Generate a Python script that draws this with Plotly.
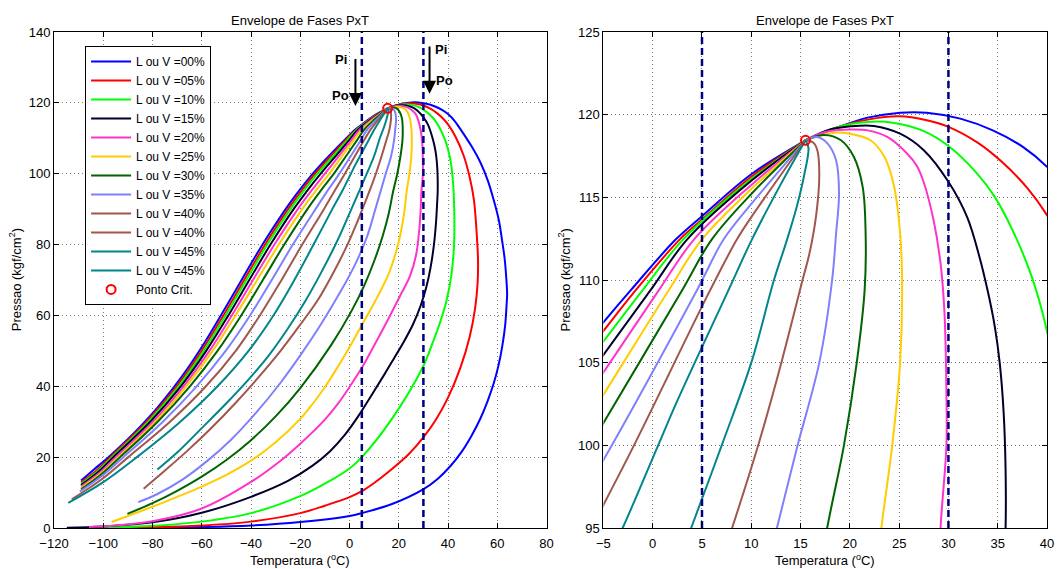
import plotly.graph_objects as go

# ---------------- data ----------------
# Left branches (from low-pressure start up to the critical point)
T_L00 = [-109, -104, -98, -91, -85, -78, -71.7, -65, -58.5, -52.3, -46, -40, -34, -28, -22, -16, -10, -5, -2.2,
         2.35, 5, 10, 15.5]
P_L00 = [13.4, 16.4, 19.9, 24.4, 28.6, 34.0, 39.4, 45.8, 52.7, 59.9, 67.4, 74.6, 81.5, 87.9, 93.8, 99.1, 103.8,
         107.44, 109.4, 112.46, 113.86, 116.4, 118.45]
T_L05 = [-109, -103.1, -97.15, -82.4, -70.2, -60.05, -51.2, -42.8, -34.3, -24.95, -19.7, -14.0, -5, -1.7, 2.75, 5,
         10, 15.5]
P_L05 = [12.9, 16.0, 20, 30, 40, 50, 60, 70, 80, 90, 95, 100, 106.92, 109.4, 112.46, 113.66, 116.25, 118.45]
T_L10 = [-109, -102.7, -96.45, -81.7, -69.4, -59.2, -50.3, -41.9, -33.4, -24.0, -18.75, -13.05, -5, -1.0, 3.1, 10,
         15.5]
P_L10 = [12.5, 15.8, 20, 30, 40, 50, 60, 70, 80, 90, 95, 100, 106.28, 109.4, 112.46, 116.1, 118.45]
T_L15 = [-109, -102.4, -95.85, -80.9, -68.5, -58.2, -49.2, -40.7, -32.1, -22.7, -17.4, -11.7, -5, -0.2, 3.5, 10,
         15.5]
P_L15 = [12.1, 15.6, 20, 30, 40, 50, 60, 70, 80, 90, 95, 100, 105.47, 109.4, 112.46, 116.0, 118.45]
T_L20 = [-109, -101.9, -94.85, -79.8, -67.4, -56.9, -47.8, -39.2, -30.5, -21.0, -15.7, -10.0, -5, 0.64, 4.2, 10,
         15.5]
P_L20 = [11.7, 15.35, 20, 30, 40, 50, 60, 70, 80, 90, 95, 100, 104.41, 109.4, 112.46, 115.75, 118.45]
T_L25 = [-109, -101.4, -93.85, -78.8, -66.3, -55.6, -46.3, -37.5, -28.7, -19.2, -13.9, -8.2, -5, 1.64, 5.0, 10,
         15.5]
P_L25 = [11.3, 15.15, 20, 30, 40, 50, 60, 70, 80, 90, 95, 100, 103.06, 109.4, 112.46, 115.5, 118.45]
T_L30 = [-109, -101.1, -93.15, -77.9, -64.8, -53.6, -44.0, -35.2, -26.5, -17.1, -11.9, -6.35, -5, 3.0, 6.0, 10,
         15.5]
P_L30 = [10.9, 14.95, 20, 30, 40, 50, 60, 70, 80, 90, 95, 100, 101.35, 109.4, 112.46, 115.2, 118.45]
T_L35 = [-109.5, -100.7, -91.85, -75.8, -62.1, -50.3, -40.4, -31.6, -23.0, -13.8, -9.1, -5, 4.5, 7.2, 10, 15.5]
P_L35 = [10.3, 14.6, 20, 30, 40, 50, 60, 70, 80, 90, 95, 99.11, 109.4, 112.46, 114.6, 118.45]
T_L40 = [-112.8, -101.3, -89.85, -72.9, -58.3, -46.2, -36.4, -27.6, -19.2, -10.4, -6.2, -1.9, 5.84, 8.55, 10, 15.5]
P_L40 = [8.1, 13.4, 20, 30, 40, 50, 60, 70, 80, 90, 95, 100, 109.4, 112.46, 113.8, 118.45]
T_L45 = [-114.2, -100.3, -86.35, -68.7, -53.6, -41.0, -30.9, -22.4, -14.6, -7.0, -3.05, 0.55, 2.5, 7.7, 10.07, 13,
         15.5]
P_L45 = [7.1, 12.8, 20, 30, 40, 50, 60, 70, 80, 90, 95, 100, 102.7, 109.4, 112.46, 115.8, 118.45]

# Right branches (from the critical point down to the low-pressure end)
T_R00 = [15.5, 18.4, 21.8, 25.1, 27.8, 31.2, 34.5, 37.55, 40, 42.8, 45.1, 49.5, 53.2, 56.2, 58.5, 60.6, 61.9, 63.0,
         63.6, 64.0, 63.8, 63.2, 62.0, 60.5, 58.5, 56.0, 53.0, 49.5, 45.5, 41.0, 36.0, 29.9, 17, 5, 0, -20, -40,
         -60, -85]
P_R00 = [118.45, 119.15, 119.82, 120.12, 120.12, 119.76, 119.05, 118.05, 116.84, 114.8, 112.5, 107.8, 103.1, 98,
         92.7, 87, 81.4, 76, 71.1, 66, 63.2, 57.2, 51.2, 45.9, 40.7, 35.7, 30.7, 26, 21.5, 17.5, 14, 10.9, 6.7, 4.2,
         3.4, 1.7, 0.7, 0.25, 0.03]
T_R05 = [15.5, 18.5, 21.8, 25.0, 27.8, 30, 33.0, 35.5, 38.05, 40, 43, 46.4, 48.8, 50.5, 51.8, 52.2, 52.0, 51.0, 48.8,
         45, 40, 35, 29.9, 24, 17, 10, 5, 0, -10, -20, -40, -60, -80, -100]
P_R05 = [118.45, 119.2, 119.7, 119.9, 119.66, 119.26, 118.29, 117.1, 115.53, 113.92, 110.5, 105, 99, 92.7, 81.4,
         75, 69, 62, 54, 45.2, 36.8, 30.5, 25.5, 20.8, 16.5, 12.7, 10.4, 8.7, 6.3, 4.2, 1.8, 0.7, 0.2, 0.03]
T_R10 = [15.5, 18.5, 21.8, 24.5, 27.5, 30, 32.85, 34.7, 36.5, 38.45, 40, 41.3, 42.1, 42.4, 42.6, 42.3, 41.3, 39.5,
         37, 33.5, 29.9, 17, 5, 0, -10, -20, -40, -60, -80, -95, -105]
P_R10 = [118.45, 119.2, 119.56, 119.5, 119.0, 118.1, 116.48, 115.03, 113.02, 110.2, 106.9, 102.5, 97, 92.7, 85, 78,
         71.1, 64.5, 58.5, 51.8, 45.6, 30.6, 20, 16.8, 12.5, 9.0, 4.2, 1.8, 0.6, 0.15, 0.03]
T_R15 = [15.5, 18, 20.1, 22.45, 25.1, 27.5, 30, 31.9, 33.1, 34.0, 34.7, 35.2, 35.6, 35.8, 35.8, 35.6, 35.1, 34.2,
         32.9, 31.2, 28.9, 25.8, 22, 18, 14.3, 8.5, 3.5, -2, -8, -15, -25, -40, -60, -80, -100, -114.8]
P_R15 = [118.45, 119.1, 119.3, 119.32, 118.85, 117.85, 115.94, 113.8, 111.5, 109.3, 107.2, 105, 102, 98.5, 95, 92,
         86, 79.5, 73.5, 68, 62.8, 57.5, 52.5, 47.8, 43.5, 37.0, 31.5, 26.2, 21.6, 17.6, 13.3, 8.8, 4.3, 1.6, 0.45,
         0.1]
T_R20 = [15.5, 17.5, 20.1, 21.8, 23.8, 25.8, 26.8, 27.5, 28.5, 29.2, 29.6, 29.8, 29.8, 29.2, 28.9, 28.3, 27, 24.5,
         20.5, 15, 10, 5, 0, -5, -10, -20, -28, -40, -60, -80, -95, -105.8]
P_R20 = [118.45, 118.95, 119.1, 119.05, 118.65, 117.65, 116.9, 115.9, 113.6, 111, 108, 103, 100, 95, 90, 84, 77,
         71, 65.5, 58, 51.5, 45.2, 39.8, 34.8, 30.6, 23.8, 19, 13, 5.5, 1.9, 0.7, 0.3]
T_R25 = [15.5, 18.4, 20, 22.1, 23.5, 24.5, 25.1, 25.3, 25.1, 24.3, 23.2, 22.2, 20.7, 18.5, 15.5, 10, 5, 0, -5,
         -10, -15, -20, -30, -40, -50, -60, -70, -80, -90, -96.6]
P_R25 = [118.45, 118.9, 118.85, 118.45, 117.45, 115.63, 112.8, 110, 105, 100, 95, 89, 83, 77, 71.1, 63.5, 57.3, 51.0,
         45.2, 39.8, 35, 30.8, 24.2, 19, 15, 11.7, 8.8, 6.0, 3.4, 1.7]
T_R30 = [15.5, 17.4, 19.1, 20.4, 21.3, 21.6, 21.5, 20.7, 19.4, 17.7, 16, 13.5, 10.1, 6, 1, -7.4, -20, -30, -40,
         -50, -60, -70, -80, -90.2]
P_R30 = [118.45, 118.77, 118.45, 117.45, 115.63, 112.8, 109.4, 105, 100, 95, 89, 82.5, 75.5, 68.5, 61.5, 51.7, 39.5,
         31.5, 24.8, 19.2, 14.5, 10.5, 7.0, 4.0]
T_R35 = [15.5, 16.7, 17.75, 18.6, 18.9, 18.6, 18.2, 16.9, 14.7, 12.6, 10.5, 7, 2, -4, -11.4, -19.5, -28, -38, -48,
         -58, -68, -78, -85.8]
P_R35 = [118.45, 118.65, 118.25, 117.24, 115.23, 112.8, 110, 105, 100, 95, 90, 82, 74, 66.3, 57.7, 49.2, 41, 32.5,
         25, 18.8, 13.6, 9.6, 7.3]
T_R40 = [15.5, 16.3, 16.7, 16.9, 16.6, 15.9, 15.2, 13.05, 10.7, 8.05, 3.5, -1.5, -7, -13, -20.1, -28, -37, -46, -56,
         -66, -76, -83.6]
P_R40 = [118.45, 118.3, 117.85, 116.44, 114.0, 111.6, 110, 105, 100, 95, 87, 79, 71.5, 64.2, 57.3, 50, 42.5, 35.5,
         28.3, 21.7, 15.6, 11.1]
T_R45 = [15.5, 15.8, 15.4, 14.6, 13.5, 12.3, 10, 7, 3.9, 0, -5, -11.2, -18, -25.5, -33, -41.4, -50, -60, -70, -78]
P_R45 = [118.45, 118.0, 116.44, 114.4, 112.2, 110, 105, 100, 95, 88.8, 81, 72.5, 64, 55.8, 48.5, 41.6, 35.2, 28.2,
         21.3, 16.5]

LABELS = ["L ou V =00%", "L ou V =05%", "L ou V =10%", "L ou V =15%", "L ou V =20%", "L ou V =25%",
          "L ou V =30%", "L ou V =35%", "L ou V =40%", "L ou V =45%"]
COLORS = ["#0000ff", "#ff0000", "#00ff00", "#00002e", "#ff33cc", "#ffcc00",
          "#006400", "#8080ff", "#a0574d", "#00868b"]

T_CRIT = [15.5]
P_CRIT = [118.45]
T_DASH = [5, 30]

# Pi / Po arrows (left chart)
ARROW_T = [2.4, 32.5]
ARROW_P_TOP = [132.8, 136.3]
ARROW_P_TIP = [119.1, 122.6]
PI_T = [-3.5, 37.1]
PI_P = [132.2, 135.1]
PO_T = [-3.6, 38.5]
PO_P = [122.0, 126.4]

LEFT = [(T_L00, P_L00), (T_L05, P_L05), (T_L10, P_L10), (T_L15, P_L15), (T_L20, P_L20),
        (T_L25, P_L25), (T_L30, P_L30), (T_L35, P_L35), (T_L40, P_L40), (T_L45, P_L45)]
RIGHT = [(T_R00, P_R00), (T_R05, P_R05), (T_R10, P_R10), (T_R15, P_R15), (T_R20, P_R20),
         (T_R25, P_R25), (T_R30, P_R30), (T_R35, P_R35), (T_R40, P_R40), (T_R45, P_R45)]

FONT = "Liberation Sans, Arial, Helvetica, sans-serif"

fig = go.Figure()

for sub, (xa, ya) in enumerate([("x", "y"), ("x2", "y2")]):
    for i in range(10):
        for side, (tt, pp) in enumerate([LEFT[i], RIGHT[i]]):
            show = (sub == 0) and (side == 0 or i >= 8)
            fig.add_trace(go.Scatter(
                x=tt, y=pp, mode="lines", name=LABELS[i],
                line=dict(color=COLORS[i], width=2, shape="spline", smoothing=1.0),
                showlegend=show, legendgroup=f"g{i}_{side}" if i >= 8 else f"g{i}",
                xaxis=xa, yaxis=ya, hoverinfo="skip"))
    for td in T_DASH:
        fig.add_trace(go.Scatter(
            x=[td, td], y=[0 if sub == 0 else 95, 140 if sub == 0 else 125], mode="lines",
            line=dict(color="#000080", width=2.5, dash="7px,4px"),
            showlegend=False, xaxis=xa, yaxis=ya, hoverinfo="skip"))
    fig.add_trace(go.Scatter(
        x=T_CRIT, y=P_CRIT, mode="markers", name="Ponto Crit.",
        marker=dict(symbol="circle-open", size=9, color="#ff0000", line=dict(width=2, color="#ff0000")),
        showlegend=(sub == 0), xaxis=xa, yaxis=ya, hoverinfo="skip"))

axis_common = dict(showline=True, linecolor="black", linewidth=1, mirror="ticks", ticks="inside",
                   ticklen=5, tickcolor="black", showgrid=True, gridcolor="#7a7a7a", gridwidth=1,
                   griddash="1px,3px", zeroline=False, tickfont=dict(family=FONT, size=13, color="black"))

fig.update_layout(
    width=1061, height=569,
    margin=dict(l=54, r=7, t=32, b=41),
    paper_bgcolor="white", plot_bgcolor="white",
    font=dict(family=FONT, size=13, color="black"),
    xaxis=dict(domain=[0, 0.496], range=[-120, 80], tickvals=list(range(-120, 81, 20)),
               ticklabelstandoff=3, **axis_common),
    yaxis=dict(domain=[0, 1], range=[0, 140], tickvals=list(range(0, 141, 20)), **axis_common),
    xaxis2=dict(domain=[0.5533, 1], range=[-5, 40], tickvals=list(range(-5, 41, 5)), anchor="y2",
                ticklabelstandoff=3, **axis_common),
    yaxis2=dict(domain=[0, 1], range=[95, 125], tickvals=list(range(95, 126, 5)), anchor="x2", **axis_common),
    legend=dict(x=0.0313, y=0.972, xanchor="left", yanchor="top", bgcolor="white",
                bordercolor="black", borderwidth=1, font=dict(family=FONT, size=12, color="black"),
                itemwidth=40, tracegroupgap=0),
    showlegend=True,
)

ann = []
for cx in [0.2477, 0.7768]:
    ann.append(dict(text="Envelope de Fases PxT", x=cx, y=1.0222, xref="paper", yref="paper",
                    showarrow=False, font=dict(size=13), xanchor="center", yanchor="middle"))
    ann.append(dict(text="Temperatura (<sup>o</sup>C)", x=cx, y=-0.0645, xref="paper", yref="paper",
                    showarrow=False, font=dict(size=13), xanchor="center", yanchor="middle"))
for yx in [-0.039, 0.514]:
    ann.append(dict(text="Pressao (kgf/cm<sup>2</sup>)", x=yx, y=0.5, xref="paper", yref="paper",
                    showarrow=False, textangle=-90, font=dict(size=13), xanchor="center", yanchor="middle"))
for k in range(2):
    ann.append(dict(x=ARROW_T[k], y=ARROW_P_TIP[k], ax=ARROW_T[k], ay=ARROW_P_TOP[k], xref="x", yref="y",
                    axref="x", ayref="y", showarrow=True, arrowhead=2, arrowsize=1.3, arrowwidth=2,
                    arrowcolor="black", text=""))
    ann.append(dict(x=PI_T[k], y=PI_P[k], xref="x", yref="y", text="<b>Pi</b>", showarrow=False,
                    font=dict(size=13)))
    ann.append(dict(x=PO_T[k], y=PO_P[k], xref="x", yref="y", text="<b>Po</b>", showarrow=False,
                    font=dict(size=13)))
fig.update_layout(annotations=ann)

fig.write_html("out.html")
